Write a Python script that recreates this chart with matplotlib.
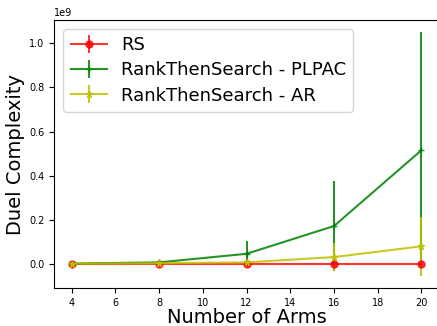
import numpy as np
import matplotlib
matplotlib.use('Agg')
import matplotlib.pyplot as plt

# data
arms = [4, 8, 12, 16, 20]
rs_mean = [0.0, 0.0, 0.0, 0.0, 0.0]
rs_err = [0.002e9, 0.002e9, 0.002e9, 0.003e9, 0.003e9]
plpac_mean = [0.0005e9, 0.006e9, 0.045e9, 0.171e9, 0.515e9]
plpac_err = [0.001e9, 0.006e9, 0.056e9, 0.203e9, 0.536e9]
ar_mean = [0.0002e9, 0.002e9, 0.006e9, 0.030e9, 0.079e9]
ar_err = [0.0005e9, 0.003e9, 0.012e9, 0.062e9, 0.134e9]

fig = plt.figure(figsize=(4.37, 3.26), dpi=100)
ax = fig.add_axes([0.1243, 0.1166, 0.88, 0.822])

ax.errorbar(arms, rs_mean, yerr=rs_err, color='r', marker='o', markersize=5,
            alpha=0.8, label='RS')
ax.errorbar(arms, plpac_mean, yerr=plpac_err, color='g', marker='+', markersize=5,
            alpha=0.85, label='RankThenSearch - PLPAC')
ax.errorbar(arms, ar_mean, yerr=ar_err, color='y', marker='*', markersize=5,
            alpha=0.85, label='RankThenSearch - AR')

ax.set_xticks([4, 6, 8, 10, 12, 14, 16, 18, 20])
ax.tick_params(labelsize=7)
ax.yaxis.get_offset_text().set_fontsize(7)
ax.set_xlabel('Number of Arms', fontsize=14, labelpad=0)
ax.set_ylabel('Duel Complexity', fontsize=14, labelpad=3)
ax.legend(loc='upper left', fontsize=13, handlelength=2.0, borderpad=0.4,
          labelspacing=0.4)

plt.savefig('out.png', dpi=100)
